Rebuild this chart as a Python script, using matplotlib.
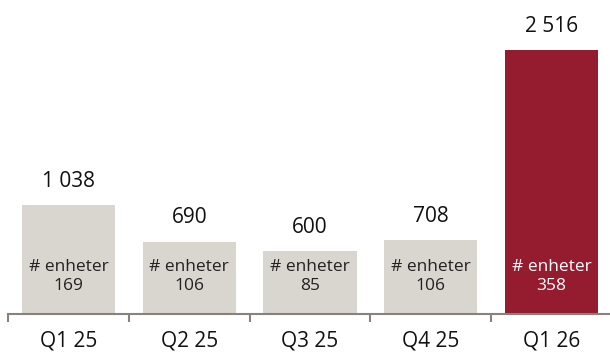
import matplotlib.pyplot as plt

# Data
quarters = ["Q1 25", "Q2 25", "Q3 25", "Q4 25", "Q1 26"]
values = [1038, 690, 600, 708, 2516]
units = [169, 106, 85, 106, 358]
value_labels = ["1 038", "690", "600", "708", "2 516"]

grey = "#d9d5cf"
red = "#951b2f"
axis_col = "#8a817a"
colors = [grey, grey, grey, grey, red]
inner_col = ["#222222"] * 4 + ["white"]

plt.rcParams["font.family"] = ["Open Sans", "DejaVu Sans"]

fig = plt.figure(figsize=(6.1, 3.52), dpi=100)
ax = fig.add_axes([8 / 610, 38 / 352, 604 / 610, 314 / 352])

x = list(range(len(quarters)))
ax.bar(x, values, width=0.77, color=colors)

ax.set_xlim(-0.5, 4.5)
ax.set_ylim(0, 2516 * 314 / 264)

for i, v in enumerate(values):
    ax.annotate(value_labels[i], (i, v), xytext=(0, 17), textcoords="offset points",
                ha="center", va="center", fontsize=15, color="#111111")
    ax.annotate(f"# enheter\n{units[i]}", (i, 0), xytext=(0, 27), textcoords="offset points",
                ha="center", va="center", fontsize=12.5, color=inner_col[i],
                linespacing=1.3)

# axis styling
for s in ["top", "right", "left"]:
    ax.spines[s].set_visible(False)
ax.spines["bottom"].set_color(axis_col)
ax.spines["bottom"].set_linewidth(1.5)
ax.set_yticks([])

ax.set_xticks(x)
ax.set_xticklabels(quarters, fontsize=15, color="#111111")
ax.tick_params(axis="x", which="major", length=0, pad=12)
ax.set_xticks([-0.5, 0.5, 1.5, 2.5, 3.5, 4.5], minor=True)
ax.tick_params(axis="x", which="minor", length=6, width=1.5, color=axis_col)

fig.savefig("out.png", dpi=100)
